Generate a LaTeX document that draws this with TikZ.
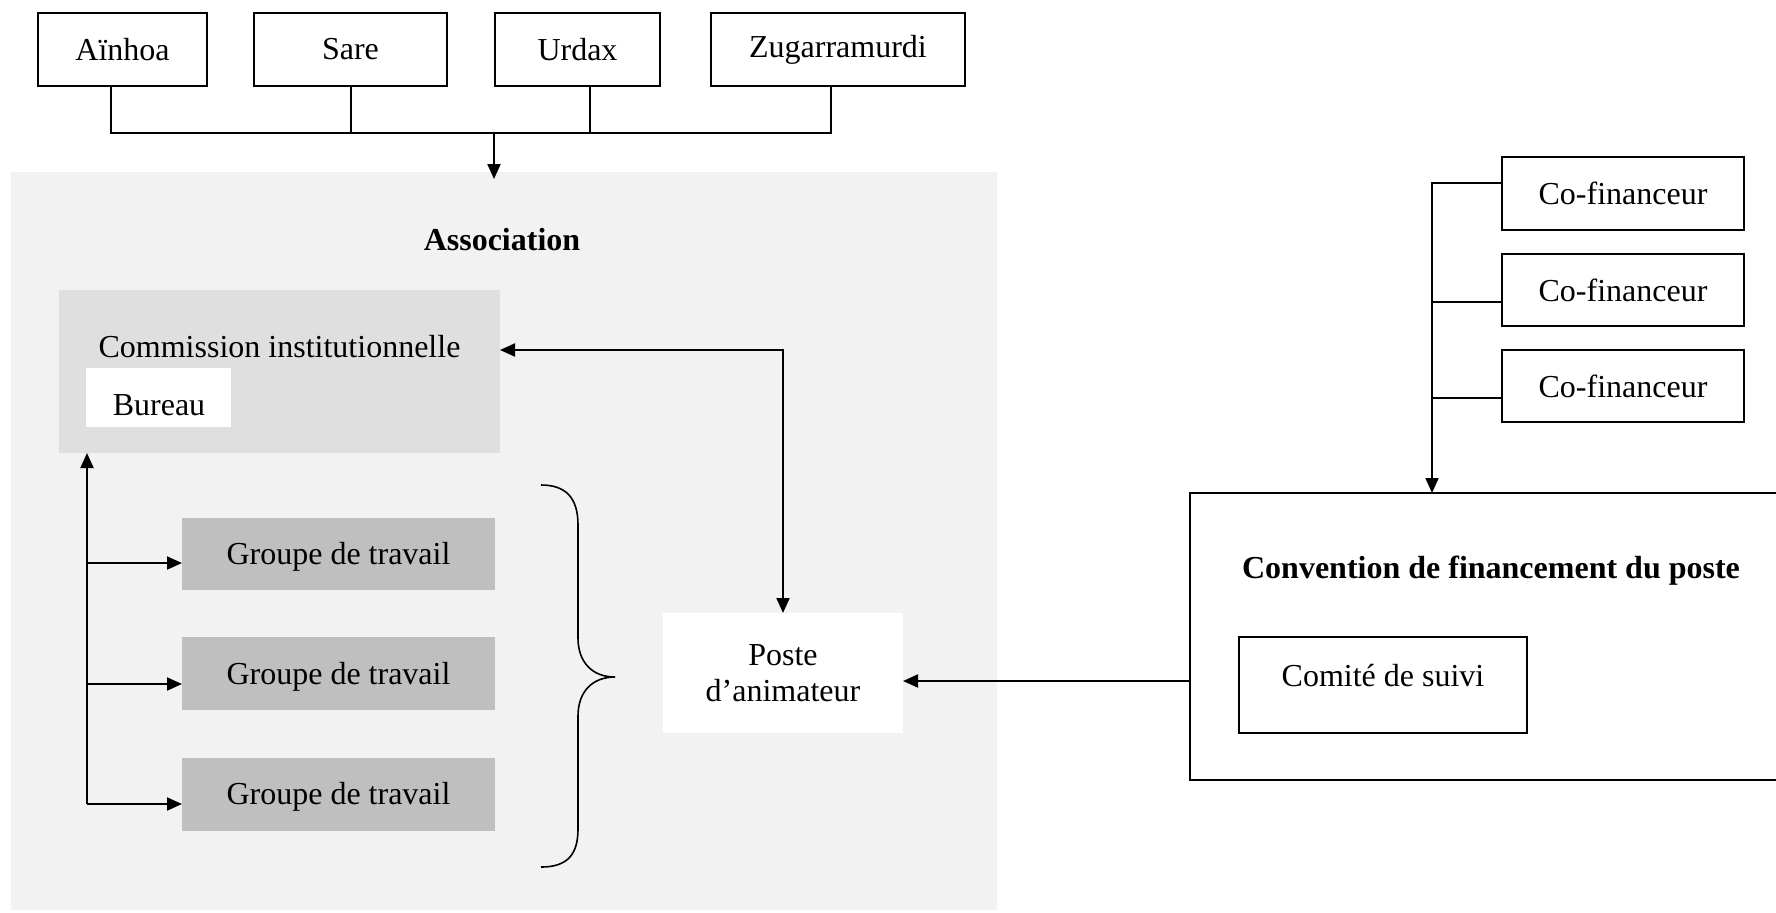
\documentclass[tikz,border=0pt]{standalone}
\usepackage{fontspec}
\setmainfont{Liberation Serif}
\usetikzlibrary{arrows.meta}
\definecolor{assocbg}{HTML}{F2F2F2}
\definecolor{commbg}{HTML}{DFDFDF}
\definecolor{grpbg}{HTML}{BFBFBF}
\begin{document}
\begin{tikzpicture}[x=0.5pt,y=-0.5pt,
  font=\fontsize{16}{18}\selectfont,
  sized/.style 2 args={minimum width=#1*0.5pt, minimum height=#2*0.5pt, inner sep=0pt, outer sep=0pt, align=center},
  framed/.style={draw, line width=0.8pt},
  conn/.style={line width=0.8pt},
  tip/.tip={Triangle[length=7.5pt,width=6.5pt]},
  arr/.style={line width=1pt, -tip},
  darr/.style={line width=1pt, tip-tip},
  ttl/.style={font=\fontsize{16}{18}\selectfont\bfseries, inner sep=0pt},
  lbl/.style={inner sep=0pt}
]
\clip (0,0) rectangle (1776,912);
\fill[white] (0,0) rectangle (1776,912);

% top row
\node[framed, sized={169}{73}] (ain) at (122.5,49.5) {Aïnhoa};
\node[framed, sized={193}{73}] (sare) at (350.5,49.5) {Sare};
\node[framed, sized={165}{73}] (urdax) at (577.5,49.5) {Urdax};
\node[framed, sized={254}{73}] (zug) at (838,49.5) {Zugarramurdi};
\coordinate (bus) at (494,133);

% association
\node[fill=assocbg, sized={986}{738}] (assoc) at (504,541) {};
\node[ttl] (assoctxt) at (502,240) {Association};

\node[fill=commbg, sized={441}{163}] (comm) at (279.5,371.5) {};
\node[lbl] (commtxt) at (279.5,347) {Commission institutionnelle};
\node[fill=white, sized={145}{59}] (bureau) at (158.5,397.5) {};
\node[lbl] (bureautxt) at (159,405) {Bureau};

\node[fill=grpbg, sized={313}{72}] (g1) at (338.5,554) {};
\node[fill=grpbg, sized={313}{73}] (g2) at (338.5,673.5) {};
\node[fill=grpbg, sized={313}{73}] (g3) at (338.5,794.5) {};
\node[lbl] (g1txt) at (338.5,557) {Groupe de travail};
\node[lbl] (g2txt) at (338.5,677) {Groupe de travail};
\node[lbl] (g3txt) at (338.5,797) {Groupe de travail};

\node[fill=white, sized={240}{120}] (poste) at (783,673) {Poste\\d’animateur};

% right side
\node[framed, sized={242}{73}] (cf1) at (1623,193.5) {Co-financeur};
\node[framed, sized={242}{72}] (cf2) at (1623,290) {Co-financeur};
\node[framed, sized={242}{72}] (cf3) at (1623,386) {Co-financeur};

\node[framed, sized={620}{287}] (conv) at (1500,636.5) {};
\node[ttl] (convtxt) at (1491,571) {Convention de financement du poste};
\node[framed, sized={288}{96}] (comite) at (1383,685) {};
\node[lbl] (comitetxt) at (1383,676) {Comité de suivi};

% top connectors
\draw[conn] (111,0 |- ain.south) |- (831,0 |- bus) -- (831,0 |- zug.south);
\draw[conn] (351,0 |- sare.south) -- (351,0 |- bus);
\draw[conn] (590,0 |- urdax.south) -- (590,0 |- bus);
\draw[arr] (bus) -- ([yshift=-3.5pt]bus |- assoc.north);

% commission <-> poste
\draw[darr] (comm.east |- 0,350) -| (poste.north);

% left trunk
\coordinate (t3) at (87,804);
\draw[arr] (t3) -- (87,0 |- comm.south);
\draw[arr] (87,563) -- (g1.west |- 0,563);
\draw[arr] (87,684) -- (g2.west |- 0,684);
\draw[arr] (t3) -- (g3.west |- t3);

% brace
\draw[line width=0.8pt] (541,485) .. controls (566,485) and (578,498) .. (578,525)
  -- (578,638) .. controls (578,662) and (592,677) .. (615,677)
  .. controls (592,677) and (578,692) .. (578,716)
  -- (578,829) .. controls (578,856) and (566,867) .. (541,867);

% convention -> poste
\draw[arr] (conv.west |- 0,681) -- (poste.east |- 0,681);

% co-financeurs
\coordinate (trunk) at (1432,183);
\draw[arr] (cf1.west |- trunk) -- (trunk) -- (trunk |- conv.north);
\draw[conn] (cf2.west |- 0,302) -- (1432,302);
\draw[conn] (cf3.west |- 0,398) -- (1432,398);
\end{tikzpicture}
\end{document}
